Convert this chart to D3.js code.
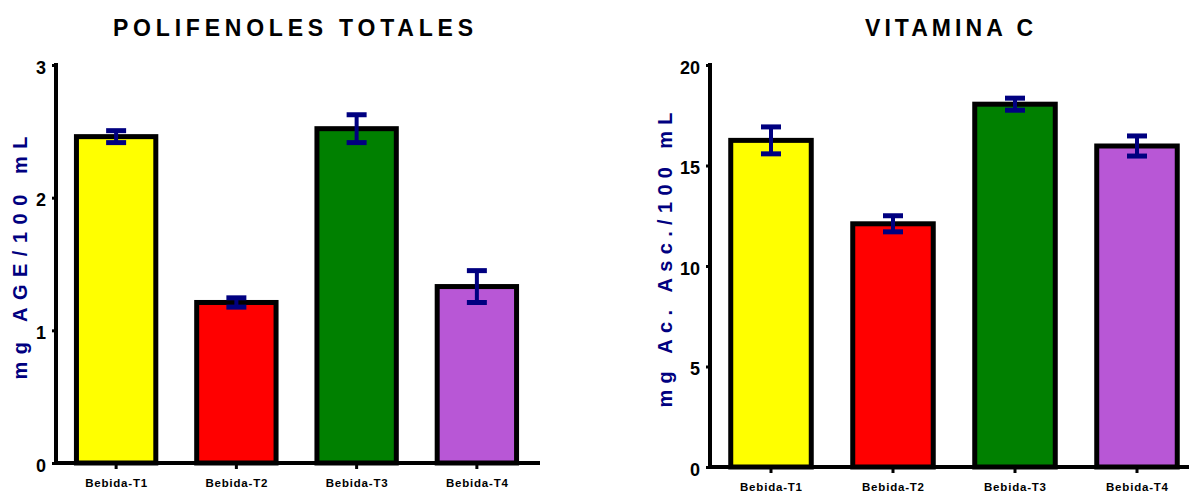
<!DOCTYPE html>
<html>
<head>
<meta charset="utf-8">
<script src="https://cdn.jsdelivr.net/npm/d3@7"></script>
<style>
  html, body { margin: 0; padding: 0; background: #fff; }
  svg { display: block; }
  text { font-family: "Liberation Sans Narrow", "Liberation Sans", Arial, sans-serif; font-weight: bold; }
</style>
</head>
<body>
<svg id="chart" width="1189" height="495"></svg>
<script>
// Shared categories and bar colours
const categories = ["Bebida-T1", "Bebida-T2", "Bebida-T3", "Bebida-T4"];
const barColors = ["#ffff00", "#ff0000", "#008000", "#b857d6"];

// Total polyphenols (mg AGE/100 mL): means and error
const polifenolesMean = [2.46, 1.21, 2.52, 1.33];
const polifenolesErr = [0.045, 0.035, 0.105, 0.12];
const polifenolesTicks = [0, 1, 2, 3];

// Vitamin C (mg Ac. Asc./100 mL): means and error
const vitaminaMean = [16.25, 12.1, 18.05, 15.97];
const vitaminaErr = [0.67, 0.4, 0.3, 0.5];
const vitaminaTicks = [0, 5, 10, 15, 20];

const svg = d3.select("#chart");
const navy = "#000080";

function drawPanel(cfg) {
  const g = svg.append("g");
  const x = d3.scaleBand().domain(categories).range(cfg.xRange)
    .paddingInner(0.34).paddingOuter(0.17);
  const y = d3.scaleLinear().domain(cfg.yDomain).range(cfg.yRange);

  // Bars
  g.selectAll("rect.bar").data(cfg.mean).join("rect")
    .attr("class", "bar")
    .attr("x", (d, i) => x(categories[i]))
    .attr("width", x.bandwidth())
    .attr("y", d => y(d))
    .attr("height", d => y(0) - y(d))
    .attr("fill", (d, i) => barColors[i])
    .attr("stroke", "#000")
    .attr("stroke-width", 5);

  // Error bars
  const eb = g.selectAll("g.err").data(cfg.mean).join("g").attr("class", "err")
    .attr("transform", (d, i) => `translate(${x(categories[i]) + x.bandwidth() / 2},0)`);
  eb.append("line")
    .attr("y1", (d, i) => y(d + cfg.err[i])).attr("y2", (d, i) => y(d - cfg.err[i]))
    .attr("stroke", navy).attr("stroke-width", 4);
  eb.append("line")
    .attr("x1", -10).attr("x2", 10)
    .attr("y1", (d, i) => y(d + cfg.err[i])).attr("y2", (d, i) => y(d + cfg.err[i]))
    .attr("stroke", navy).attr("stroke-width", 5);
  eb.append("line")
    .attr("x1", -10).attr("x2", 10)
    .attr("y1", (d, i) => y(d - cfg.err[i])).attr("y2", (d, i) => y(d - cfg.err[i]))
    .attr("stroke", navy).attr("stroke-width", 5);

  // Y axis
  const yAxis = g.append("g")
    .attr("transform", `translate(${cfg.xRange[0]},0)`)
    .call(d3.axisLeft(y).tickValues(cfg.ticks).tickSize(4).tickPadding(6).tickFormat(d3.format("d")));
  yAxis.select(".domain").attr("stroke", "#000").attr("stroke-width", 4)
    .attr("d", `M0,${cfg.yRange[1] - 2}V${cfg.yRange[0] + 2}`);
  yAxis.selectAll(".tick line").attr("stroke", "#000").attr("stroke-width", 3);
  yAxis.selectAll(".tick text").attr("font-size", 18).attr("fill", "#000")
    .attr("dy", "0.45em");

  // X axis
  const xAxis = g.append("g")
    .attr("transform", `translate(0,${cfg.yRange[0]})`)
    .call(d3.axisBottom(x).tickSize(6).tickPadding(10));
  xAxis.select(".domain").attr("stroke", "#000").attr("stroke-width", 4)
    .attr("d", `M${cfg.xRange[0] - 2},0H${cfg.xEnd}`);
  xAxis.selectAll(".tick line").attr("stroke", "#000").attr("stroke-width", 3);
  xAxis.selectAll(".tick text").attr("font-size", 11.5).attr("fill", "#000")
    .attr("textLength", 62).attr("lengthAdjust", "spacing");

  // Title
  g.append("text")
    .attr("x", cfg.titleX).attr("y", 36)
    .attr("text-anchor", "middle")
    .attr("font-size", 23)
    .attr("textLength", cfg.titleLen).attr("lengthAdjust", "spacing")
    .text(cfg.title);

  // Y axis label
  g.append("text")
    .attr("transform", `translate(${cfg.labelX},${cfg.labelY}) rotate(-90)`)
    .attr("text-anchor", "middle")
    .attr("font-size", 20)
    .attr("fill", navy)
    .attr("textLength", cfg.labelLen).attr("lengthAdjust", "spacing")
    .text(cfg.label);
}

drawPanel({
  mean: polifenolesMean, err: polifenolesErr, ticks: polifenolesTicks,
  xRange: [56, 537], xEnd: 540, yDomain: [0, 3], yRange: [463, 65],
  title: "POLIFENOLES TOTALES", titleX: 293, titleLen: 360,
  label: "mg AGE/100 mL", labelX: 27, labelY: 258, labelLen: 243
});

drawPanel({
  mean: vitaminaMean, err: vitaminaErr, ticks: vitaminaTicks,
  xRange: [710, 1198], xEnd: 1200, yDomain: [0, 20], yRange: [467, 65],
  title: "VITAMINA C", titleX: 949, titleLen: 168,
  label: "mg Ac. Asc./100 mL", labelX: 672, labelY: 260, labelLen: 295
});
</script>
</body>
</html>
